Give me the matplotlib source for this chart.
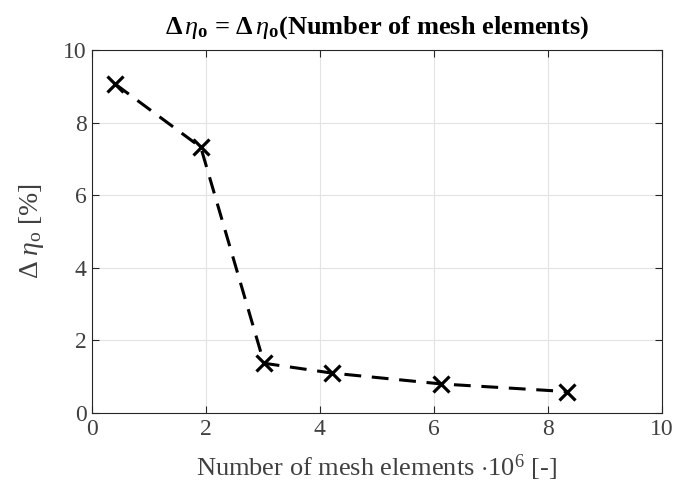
import numpy as np
import matplotlib
matplotlib.use("Agg")
import matplotlib.pyplot as plt

# mesh study: number of elements (millions) vs. efficiency deviation
n_elements = [0.41, 1.91, 3.02, 4.21, 6.13, 8.33]
delta_eta = [9.06, 7.32, 1.37, 1.10, 0.80, 0.59]
x_ticks = [0, 2, 4, 6, 8, 10]
y_ticks = [0, 2, 4, 6, 8, 10]

plt.rcParams['font.family'] = ['Liberation Serif', 'DejaVu Serif']
plt.rcParams['mathtext.fontset'] = 'custom'
plt.rcParams['mathtext.rm'] = 'Liberation Serif'
plt.rcParams['mathtext.it'] = 'Liberation Serif:italic'
plt.rcParams['mathtext.bf'] = 'Liberation Serif:bold'

fig = plt.figure(figsize=(6.76, 4.93), dpi=100)
ax = fig.add_axes([0.136, 0.1623, 0.843, 0.7363])

ax.plot(n_elements, delta_eta, '--', color='k', lw=2.2, dashes=(5.5, 3.5),
        marker='x', ms=12, mew=2.3)

ax.set_xlim(0, 10)
ax.set_ylim(0, 10)
ax.set_xticks(x_ticks)
ax.set_yticks(y_ticks)
ax.grid(True, color='#e3e3e3', lw=0.8)
ax.set_axisbelow(True)
ax.tick_params(direction='in', top=True, right=True, length=5,
               labelsize=17, colors='#262626', labelcolor='#404040', pad=4)
for s in ax.spines.values():
    s.set_color('#262626')
    s.set_linewidth(0.8)

ax.set_xlabel(r'Number of mesh elements $\cdot10^6$ [-]', fontsize=19,
              color='#404040', labelpad=9)
ax.set_ylabel(r'$\Delta\;\eta_{\mathrm{o}}$ [%]', fontsize=20,
              color='#404040', labelpad=12)
ax.set_title(r'$\mathbf{\Delta}\,\eta_{\mathbf{o}}$ = $\mathbf{\Delta}\,\eta_{\mathbf{o}}$(Number of mesh elements)',
             fontsize=19, fontweight='bold', pad=12)

fig.savefig('out.png', dpi=100)
